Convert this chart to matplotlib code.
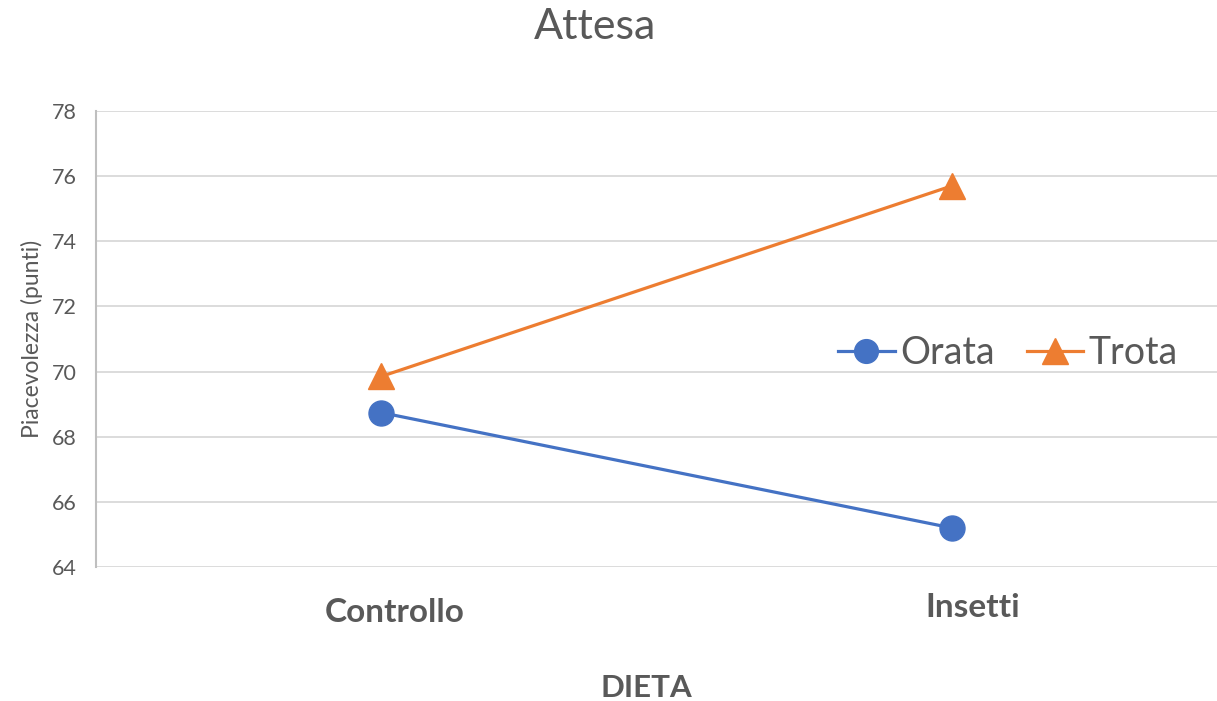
import matplotlib
matplotlib.use('Agg')
import matplotlib.pyplot as plt
from matplotlib.transforms import ScaledTranslation

plt.rcParams['font.family'] = ['Lato', 'DejaVu Sans']

# dati
diete = ['Controllo', 'Insetti']
orata = [68.74, 65.2]
trota = [69.85, 75.7]
y_ticks = [64, 66, 68, 70, 72, 74, 76, 78]

grigio = '#595959'
blu = '#4472C4'
arancio = '#ED7D31'

fig = plt.figure(figsize=(12.17, 7.01), dpi=100)
ax = fig.add_axes([96/1217, 134/701, 1141/1217, 456/701])

x = range(len(diete))
ax.plot(x, orata, color=blu, lw=2.3, marker='o', markersize=18, label='Orata', zorder=3)
ax.plot(x, trota, color=arancio, lw=2.3, marker='^', markersize=19, label='Trota', zorder=3)

ax.set_xlim(-0.5, 1.5)
ax.set_ylim(64, 78)
ax.set_yticks(y_ticks)
ax.set_xticks(list(x))
ax.set_xticklabels(diete, fontsize=24, fontweight='bold', color=grigio)
ax.tick_params(axis='y', labelsize=15.5, labelcolor=grigio, length=0, pad=14)
ax.tick_params(axis='x', length=0, pad=20)

# sposta le etichette delle categorie
offsets = [(13, -3), (21, 2)]
for lab, (dx, dy) in zip(ax.get_xticklabels(), offsets):
    lab.set_transform(lab.get_transform() + ScaledTranslation(dx/100, dy/100, fig.dpi_scale_trans))

ax.grid(axis='y', color='#D9D9D9', lw=1.3)
ax.set_axisbelow(True)
for s in ['top', 'right', 'bottom']:
    ax.spines[s].set_visible(False)
ax.spines['left'].set_color('#BFBFBF')
ax.spines['left'].set_linewidth(1.5)

ax.set_ylabel('Piacevolezza (punti)', fontsize=16.5, color=grigio, labelpad=6)

fig.text(595/1217, 1 - 27/701, 'Attesa', fontsize=31, color=grigio, ha='center', va='center')
fig.text(646/1217, 1 - 688/701, 'DIETA', fontsize=22.5, fontweight='bold', color=grigio, ha='center', va='center')

ax.legend(loc='center', bbox_to_anchor=(1008/1217, 1 - 353/701), bbox_transform=fig.transFigure,
          ncol=2, frameon=False, fontsize=27, handlelength=1.5, handletextpad=0.15,
          columnspacing=0.85, labelcolor=grigio, markerscale=0.95)

fig.savefig('out.png', dpi=100)
